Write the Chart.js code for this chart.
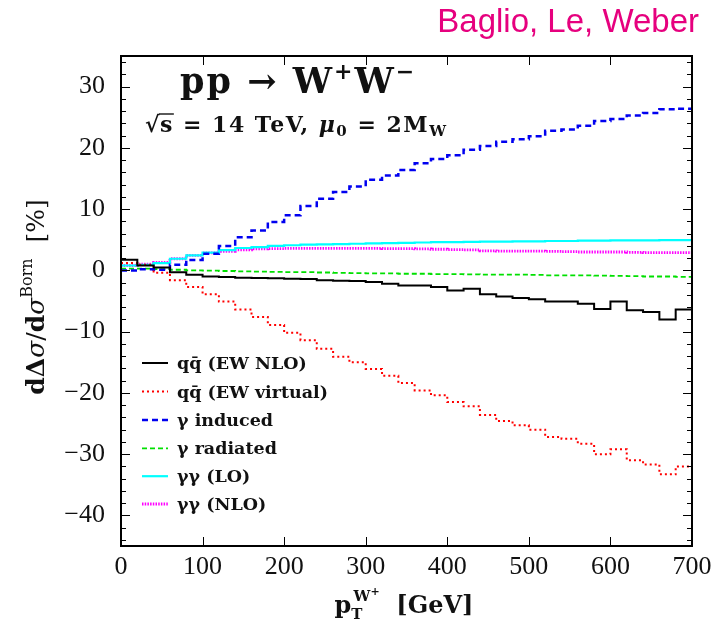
<!DOCTYPE html>
<html lang="en">
<head>
<meta charset="UTF-8">
<title>pp → W+W− : EW corrections vs pT</title>
<script src="https://cdn.jsdelivr.net/npm/chart.js"></script>
<style>
  html, body { margin: 0; padding: 0; background: #ffffff; }
  #wrap { width: 719px; height: 628px; }
</style>
</head>
<body>
<div id="wrap"><canvas id="chart" width="719" height="628"></canvas></div>
<script>
// bin edges in GeV (20 GeV bins from 0 to 700)
const binEdges = [0, 20, 40, 60, 80, 100, 120, 140, 160, 180, 200, 220, 240, 260, 280, 300, 320, 340,
                  360, 380, 400, 420, 440, 460, 480, 500, 520, 540, 560, 580, 600, 620, 640, 660, 680, 700];

// relative corrections in %, one value per bin
const qqEwNlo = [1.75, 0.8, 0.45, -0.3, -0.7, -1.0, -1.1, -1.2, -1.25, -1.3, -1.35, -1.4, -1.6, -1.7, -1.75, -1.9, -2.2, -2.45,
                 -2.45, -2.7, -3.3, -3.0, -3.9, -4.25, -4.5, -4.7, -5.1, -5.1, -5.45, -6.3, -5.1, -6.5, -6.8, -8.0, -6.4];
const qqEwVirtual = [1.2, 0.9, -0.4, -1.6, -2.7, -3.9, -5.1, -6.4, -7.6, -8.9, -10.2, -11.4, -12.8, -14.1, -15.0, -16.1, -17.2, -18.4,
                     -19.6, -20.4, -21.5, -22.2, -23.6, -24.6, -25.3, -26.0, -27.2, -27.5, -28.3, -30.0, -29.2, -31.0, -31.7, -33.3, -32.0];
const gammaInduced = [0.0, 0.2, 0.1, 0.9, 1.7, 2.7, 4.0, 5.4, 6.5, 7.9, 9.0, 10.5, 11.7, 12.8, 13.7, 14.8, 15.5, 16.4,
                      17.5, 18.2, 18.8, 19.7, 20.3, 21.0, 21.4, 21.9, 22.8, 23.0, 23.6, 24.4, 24.7, 25.3, 25.7, 26.3, 26.4];
const gammaRadiated = [0.3, 0.3, 0.2, 0.1, 0.0, -0.05, -0.1, -0.15, -0.2, -0.25, -0.3, -0.3, -0.35, -0.4, -0.45, -0.5, -0.5, -0.55,
                       -0.55, -0.6, -0.6, -0.65, -0.7, -0.7, -0.7, -0.75, -0.8, -0.8, -0.8, -0.85, -0.9, -0.95, -1.0, -1.0, -1.05];
const ggLo = [0.8, 0.9, 1.2, 1.9, 2.45, 2.9, 3.3, 3.65, 3.8, 4.0, 4.1, 4.2, 4.25, 4.3, 4.35, 4.4, 4.45, 4.5,
              4.55, 4.6, 4.6, 4.65, 4.7, 4.7, 4.75, 4.75, 4.8, 4.8, 4.85, 4.85, 4.9, 4.9, 4.9, 4.95, 4.95];
const ggNlo = [0.8, 1.0, 1.3, 1.9, 2.45, 2.85, 3.1, 3.35, 3.5, 3.55, 3.6, 3.6, 3.6, 3.6, 3.6, 3.6, 3.55, 3.55,
               3.5, 3.45, 3.4, 3.35, 3.2, 3.15, 3.15, 3.15, 3.1, 3.05, 3.0, 3.0, 3.0, 2.95, 2.9, 2.9, 2.9];

const xTicks = [0, 100, 200, 300, 400, 500, 600, 700];
const yTicks = [-40, -30, -20, -10, 0, 10, 20, 30];

const serif = '"Liberation Serif", "Times New Roman", serif';
const bserif = '"DejaVu Serif", serif';

// histogram -> step line: one point per bin edge, last value repeated at the upper edge
function steps(vals) {
  return binEdges.map((x, i) => ({ x: x, y: vals[Math.min(i, vals.length - 1)] }));
}

function ds(label, vals, color, width, dash) {
  return {
    label: label,
    data: steps(vals),
    borderColor: color,
    borderWidth: width,
    borderDash: dash,
    stepped: true,
    pointRadius: 0,
    fill: false,
  };
}

const datasets = [
  ds('qq\u0304 (EW NLO)', qqEwNlo, '#000000', 2, []),
  ds('qq\u0304 (EW virtual)', qqEwVirtual, '#ff0000', 2, [2, 3]),
  ds('\u03b3 induced', gammaInduced, '#0000f0', 2.5, [6, 4]),
  ds('\u03b3 radiated', gammaRadiated, '#00e000', 1.8, [5, 3]),
  ds('\u03b3\u03b3 (LO)', ggLo, '#00ffff', 2.2, []),
  ds('\u03b3\u03b3 (NLO)', ggNlo, '#ff00ff', 2.8, [1.5, 1.2]),
];

// text made of pieces in different fonts (for sub/superscripts)
function runsWidth(ctx, runs) {
  let w = 0;
  runs.forEach(r => { ctx.font = r.f; w += ctx.measureText(r.t).width + (r.sp || 0); });
  return w;
}
function drawRuns(ctx, runs, x, y) {
  let cx = x;
  runs.forEach(r => {
    ctx.font = r.f;
    ctx.fillText(r.t, cx, y + (r.dy || 0));
    cx += ctx.measureText(r.t).width + (r.sp || 0);
  });
  return cx;
}

const overlay = {
  id: 'overlay',
  afterDraw(chart) {
    const { ctx, chartArea: a, scales: { x, y } } = chart;
    ctx.save();

    // inward ticks, all four sides
    ctx.strokeStyle = '#000';
    ctx.lineWidth = 1;
    ctx.beginPath();
    for (let v = -44; v <= 34; v += 2) {
      const py = Math.round(y.getPixelForValue(v)) + 0.5;
      const len = v % 10 === 0 ? 9 : 5;
      ctx.moveTo(a.left, py); ctx.lineTo(a.left + len, py);
      ctx.moveTo(a.right, py); ctx.lineTo(a.right - len, py);
    }
    xTicks.forEach(v => {
      const px = Math.round(x.getPixelForValue(v)) + 0.5;
      ctx.moveTo(px, a.bottom); ctx.lineTo(px, a.bottom - 9);
      ctx.moveTo(px, a.top); ctx.lineTo(px, a.top + 9);
    });
    ctx.stroke();

    // frame
    ctx.lineWidth = 2;
    ctx.strokeRect(a.left, a.top, a.right - a.left, a.bottom - a.top);

    ctx.fillStyle = '#111';
    ctx.textBaseline = 'alphabetic';
    ctx.textAlign = 'left';

    // process label inside the frame
    ctx.letterSpacing = '2px';
    drawRuns(ctx, [
      { t: 'pp \u2192 W', f: 'bold 35px ' + bserif },
      { t: '+', f: 'bold 22px ' + bserif, dy: -14 },
      { t: 'W', f: 'bold 35px ' + bserif },
      { t: '\u2212', f: 'bold 22px ' + bserif, dy: -14 },
    ], 180, 93);

    ctx.letterSpacing = '1.5px';
    const xe = drawRuns(ctx, [{ t: '\u221a', f: 'bold 22px ' + bserif }], 145, 132);
    const xs = drawRuns(ctx, [{ t: 's', f: 'bold 22px ' + bserif }], xe - 1, 132);
    ctx.lineWidth = 1.3;
    ctx.beginPath(); ctx.moveTo(xe - 2, 114); ctx.lineTo(xs, 114); ctx.stroke();
    drawRuns(ctx, [
      { t: ' = 14 TeV, ', f: 'bold 22px ' + bserif },
      { t: '\u03bc', f: 'italic bold 22px ' + bserif },
      { t: '0', f: 'bold 15px ' + bserif, dy: 4 },
      { t: ' = 2M', f: 'bold 22px ' + bserif },
      { t: 'W', f: 'bold 15px ' + bserif, dy: 4 },
    ], xs, 132);
    ctx.letterSpacing = '0px';

    // legend, bottom left inside the frame
    const rowY = [363, 391.5, 420, 448.3, 476.2, 504];
    chart.data.datasets.forEach((d, i) => {
      const ry = rowY[i];
      ctx.strokeStyle = d.borderColor;
      ctx.lineWidth = d.borderWidth;
      ctx.setLineDash(d.borderDash);
      ctx.beginPath(); ctx.moveTo(142, ry); ctx.lineTo(168, ry); ctx.stroke();
      ctx.setLineDash([]);
      ctx.fillStyle = '#111';
      ctx.font = 'bold 17.5px ' + bserif;
      ctx.fillText(d.label, 177, ry + 6);
    });

    // x axis title
    const xt = [
      { t: 'p', f: 'bold 24px ' + bserif },
      { t: 'T', f: 'bold 15px ' + bserif, dy: 6, sp: -9 },
      { t: 'W', f: 'bold 15px ' + bserif, dy: -12 },
      { t: '+', f: 'bold 11px ' + bserif, dy: -18 },
      { t: '  [GeV]', f: 'bold 24px ' + bserif },
    ];
    ctx.fillStyle = '#111';
    drawRuns(ctx, xt, 404 - runsWidth(ctx, xt) / 2, 613);

    // y axis title, rotated
    const yt = [
      { t: 'd\u0394', f: 'bold 25px ' + bserif },
      { t: '\u03c3', f: 'italic 25px ' + bserif },
      { t: '/', f: '25px ' + bserif },
      { t: 'd', f: 'bold 25px ' + bserif },
      { t: '\u03c3', f: 'italic 25px ' + bserif },
      { t: 'Born', f: '16px ' + bserif, dy: -12 },
      { t: '  [%]', f: '25px ' + bserif },
    ];
    ctx.translate(44, 297);
    ctx.rotate(-Math.PI / 2);
    drawRuns(ctx, yt, -runsWidth(ctx, yt) / 2, 0);
    ctx.restore();

    // author line top right
    ctx.save();
    ctx.fillStyle = '#e6007e';
    ctx.font = '33px "Liberation Sans", Arial, sans-serif';
    ctx.textAlign = 'right';
    ctx.fillText('Baglio, Le, Weber', 699, 32);
    ctx.restore();
  }
};

const chart = new Chart(document.getElementById('chart').getContext('2d'), {
  type: 'line',
  data: { datasets: datasets },
  options: {
    responsive: false,
    animation: false,
    layout: { padding: { top: 56, right: 27, left: 0, bottom: 0 } },
    plugins: {
      legend: { display: false },
      tooltip: { enabled: false },
    },
    scales: {
      x: {
        type: 'linear',
        min: 0,
        max: 700,
        afterBuildTicks: (s) => { s.ticks = xTicks.map(v => ({ value: v })); },
        afterFit: (s) => { s.height = 82; },
        grid: { display: false, drawTicks: false },
        border: { display: false },
        ticks: { color: '#111', padding: 6, maxRotation: 0, font: { family: serif, size: 26 } },
      },
      y: {
        type: 'linear',
        min: -45,
        max: 35,
        afterBuildTicks: (s) => { s.ticks = yTicks.map(v => ({ value: v })); },
        afterFit: (s) => { s.width = 121; },
        grid: { display: false, drawTicks: false },
        border: { display: false },
        ticks: {
          color: '#111',
          padding: 16,
          font: { family: serif, size: 26 },
          callback: (v) => (v < 0 ? '\u2212' + Math.abs(v) : String(v)),
        },
      },
    },
  },
  plugins: [overlay],
});
</script>
</body>
</html>
